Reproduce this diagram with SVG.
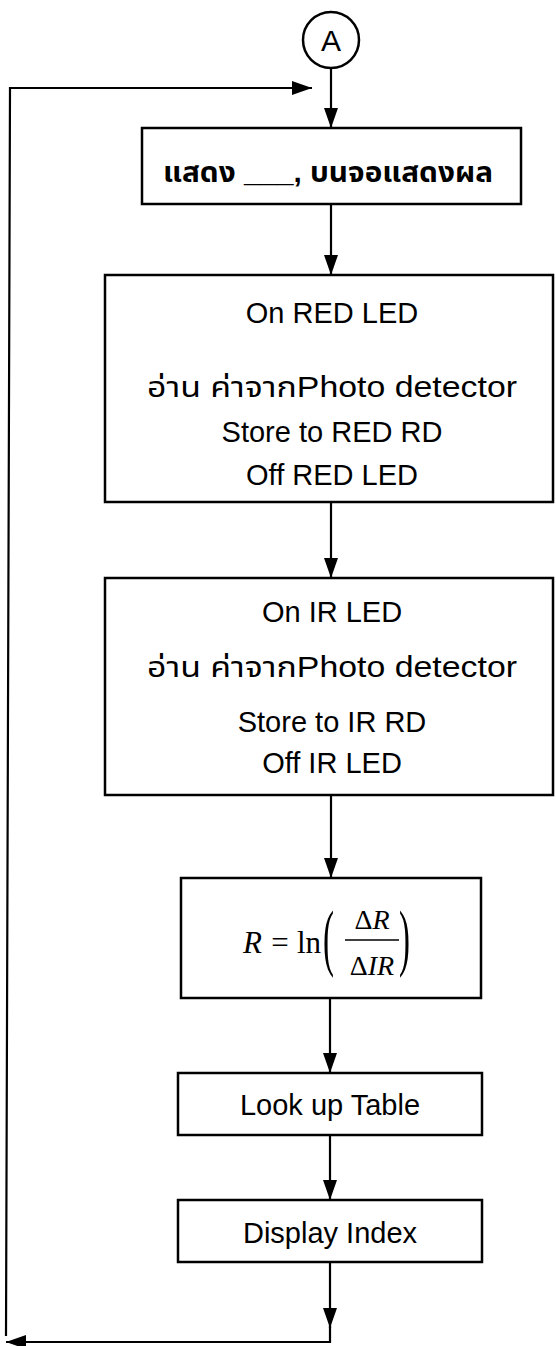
<svg xmlns="http://www.w3.org/2000/svg" width="556" height="1346" viewBox="0 0 556 1346">
<style>
.box{fill:#fff;stroke:#000;stroke-width:2.5}
.c{fill:none;stroke:#000;stroke-width:2.2}
.t{font-family:"Liberation Sans",Arial,"Noto Sans Thai","Tahoma",sans-serif;font-size:29px;text-anchor:middle;fill:#000}
.th{font-family:"Liberation Sans",Arial,"Noto Sans Thai","Tahoma",sans-serif;font-size:29px;text-anchor:middle;fill:#000}
.m{font-family:"Liberation Serif","Times New Roman",serif;fill:#000}
</style>
<defs>
<marker id="ah" viewBox="0 0 20 14" refX="20" refY="7" markerWidth="20" markerHeight="14" markerUnits="userSpaceOnUse" orient="auto"><path d="M0,0 L20,7 L0,14 z" fill="#000"/></marker>
</defs>
<rect width="556" height="1346" fill="#fff"/>
<g id="connectors">
<path class="c" d="M331,68 V128" marker-end="url(#ah)"/>
<path class="c" d="M331,204 V275" marker-end="url(#ah)"/>
<path class="c" d="M331,502 V578" marker-end="url(#ah)"/>
<path class="c" d="M331,795 V878" marker-end="url(#ah)"/>
<path class="c" d="M330,998 V1073" marker-end="url(#ah)"/>
<path class="c" d="M330,1135 V1200" marker-end="url(#ah)"/>
<path class="c" d="M330,1262 V1328" marker-end="url(#ah)"/>
<path class="c" d="M330,1326 V1342 H6" marker-end="url(#ah)"/>
<path class="c" d="M6,1336 L10,88 H312" marker-end="url(#ah)"/>
</g>
<g id="nodeA">
<circle cx="331" cy="40" r="28" fill="#fff" stroke="#000" stroke-width="2.5"/>
<text class="t" x="331" y="51" style="font-size:30px">A</text>
</g>
<g id="box1">
<rect class="box" x="142" y="128" width="379" height="76"/>
<text class="th" x="328" y="182" style="font-weight:bold;font-size:28px" textLength="330" lengthAdjust="spacingAndGlyphs">แสดง ___, บนจอแสดงผล</text>
</g>
<g id="box2">
<rect class="box" x="105" y="275" width="448" height="227"/>
<text class="t" x="332" y="323">On RED LED</text>
<text class="th" x="332" y="397" textLength="370" lengthAdjust="spacingAndGlyphs">อ่าน ค่าจากPhoto detector</text>
<text class="t" x="332" y="442">Store to RED RD</text>
<text class="t" x="332" y="485">Off RED LED</text>
</g>
<g id="box3">
<rect class="box" x="105" y="578" width="448" height="217"/>
<text class="t" x="332" y="622">On IR LED</text>
<text class="th" x="332" y="677" textLength="370" lengthAdjust="spacingAndGlyphs">อ่าน ค่าจากPhoto detector</text>
<text class="t" x="332" y="732">Store to IR RD</text>
<text class="t" x="332" y="773">Off IR LED</text>
</g>
<g id="formula">
<rect class="box" x="181" y="878" width="300" height="120"/>
<text class="m" x="243" y="953" style="font-size:31px;font-style:italic">R</text>
<text class="m" x="280" y="953" style="font-size:31px;text-anchor:middle">=</text>
<text class="m" x="297" y="953" style="font-size:31px">ln</text>
<text class="m" transform="translate(323,962) scale(1.1,2.5)" style="font-size:30px">(</text>
<text class="m" x="372" y="929" style="font-size:28px;text-anchor:middle">Δ<tspan font-style="italic">R</tspan></text>
<line x1="345" y1="940" x2="399" y2="940" stroke="#000" stroke-width="1.6"/>
<text class="m" x="372" y="975" style="font-size:28px;text-anchor:middle">Δ<tspan font-style="italic">IR</tspan></text>
<text class="m" transform="translate(399,962) scale(1.1,2.5)" style="font-size:30px">)</text>
</g>
<g id="lookup">
<rect class="box" x="178" y="1073" width="304" height="62"/>
<text class="t" x="330" y="1115">Look up Table</text>
</g>
<g id="display">
<rect class="box" x="178" y="1200" width="304" height="62"/>
<text class="t" x="330" y="1243">Display Index</text>
</g>
</svg>
